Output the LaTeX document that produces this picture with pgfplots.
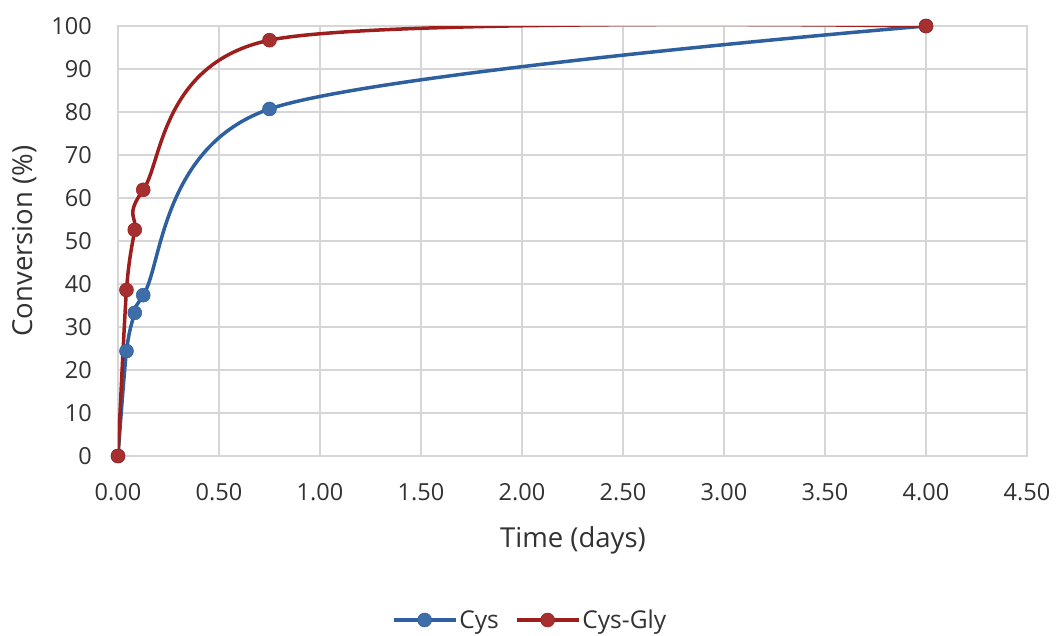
\documentclass[border=0pt]{standalone}
\usepackage{pgfplots}
\pgfplotsset{compat=1.18}
\usepackage{fontspec}
\setmainfont{Open Sans}
\definecolor{cysblue}{RGB}{46,96,160}
\definecolor{cysred}{RGB}{158,30,30}
\definecolor{gridgray}{RGB}{214,214,214}
\definecolor{txt}{RGB}{50,50,50}
\begin{document}
\begin{tikzpicture}
\path[use as bounding box] (-118pt,-179pt) rectangle (938pt,456pt);
\begin{axis}[
  at={(0pt,0pt)}, anchor=south west,
  scale only axis, width=909pt, height=430pt,
  xmin=0, xmax=4.5, ymin=0, ymax=100,
  xtick={0,0.5,...,4.5}, ytick={0,10,...,100},
  grid=major, major grid style={gridgray, line width=1.3pt},
  axis line style={gridgray, line width=1.3pt},
  tick style={draw=none},
  /pgf/number format/assume math mode=true,
  xticklabel style={/pgf/number format/.cd, fixed, fixed zerofill, precision=2, /tikz/.cd, anchor=center, yshift=-36pt},
  yticklabel style={/pgf/number format/fixed, anchor=east, inner sep=0pt, xshift=-26pt},
  ticklabel style={font=\fontsize{23.5}{27}\selectfont, text=txt},
  xtick pos=bottom, ytick pos=left,
  xlabel={Time (days)}, ylabel={Conversion (\%)},
  label style={font=\fontsize{27.5}{32}\selectfont, text=txt},
  every axis x label/.append style={at={(455pt,-84pt)}, anchor=center},
  every axis y label/.append style={at={(-93pt,215pt)}, anchor=center},
  legend style={at={(412pt,-164pt)}, anchor=center, draw=none, legend columns=2,
    font=\fontsize{24.5}{29}\selectfont, text=txt,
    /tikz/every even column/.append style={column sep=14pt}},
  legend cell align=left,
  legend image code/.code={\draw[#1, mark repeat=2, mark phase=2] plot coordinates {(0pt,0pt) (31pt,0pt) (62pt,0pt)};},
]
\addplot[cysblue, line width=3.5pt, smooth, tension=0.5, mark=*, mark size=7pt, mark options={fill=cysblue!92!white, draw=cysblue, line width=0.5pt}]
coordinates {(0,0) (0.042,24.4) (0.083,33.3) (0.125,37.4) (0.75,80.7) (4,100)};
\addlegendentry{Cys}
\addplot[cysred, line width=3.5pt, smooth, tension=0.5, mark=*, mark size=7pt, mark options={fill=cysred!92!white, draw=cysred, line width=0.5pt}]
coordinates {(0,0) (0.042,38.6) (0.083,52.6) (0.125,61.9) (0.75,96.7) (4,100)};
\addlegendentry{Cys-Gly}
\end{axis}
\end{tikzpicture}
\end{document}
